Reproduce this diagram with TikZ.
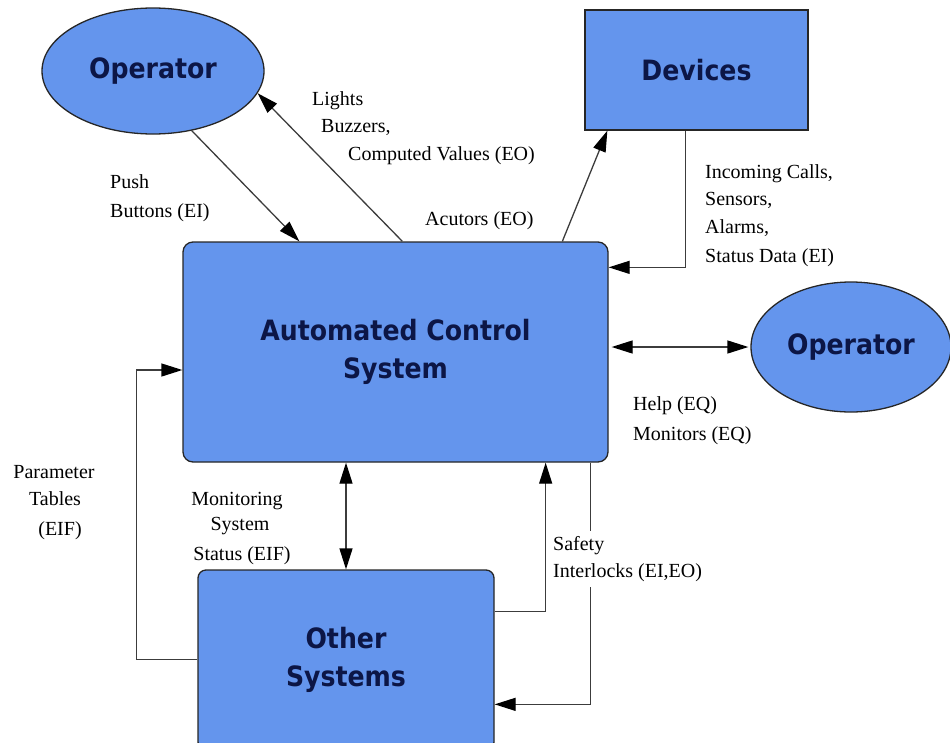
\documentclass[tikz,border=0pt]{standalone}
\usepackage{fontspec}
\setmainfont{Liberation Serif}
\newfontfamily\boxfont{DejaVu Sans Condensed}
\usetikzlibrary{arrows.meta,shapes.geometric,calc}
\definecolor{boxblue}{RGB}{100,149,237}
\definecolor{boxtext}{RGB}{12,22,70}
\definecolor{wire}{RGB}{60,60,60}
\begin{document}
\begin{tikzpicture}[x=1pt,y=-1pt,
  entity/.style={draw=black!85,line width=1.3pt,fill=boxblue,text=boxtext,
    font=\boxfont\bfseries\fontsize{28}{38}\selectfont,align=center,inner sep=0pt},
  oval/.style={entity,ellipse},
  box/.style={entity,rectangle},
  flow/.style={draw=wire,line width=1.3pt,-{Triangle[length=21pt,width=13pt,color=black]}},
  bothflow/.style={draw=wire,line width=1.3pt,
    {Triangle[length=21pt,width=13pt,color=black]}-{Triangle[length=21pt,width=13pt,color=black]}},
  note/.style={font=\fontsize{20}{27}\selectfont,inner sep=0pt,anchor=base west},
  cnote/.style={note,anchor=base}]
\useasboundingbox (0,0) rectangle (950,742);
\clip (0,0) rectangle (950,742);

% entities
\node[oval,minimum width=222pt,minimum height=126pt] (opL) at (153,71) {Operator};
\node[box,minimum width=223pt,minimum height=120pt] (dev) at (696.5,70) {Devices};
\node[box,rounded corners=10pt,minimum width=425pt,minimum height=220pt] (acs) at (395.5,352)
  {Automated Control\\System};
\node[oval,minimum width=200pt,minimum height=130pt] (opR) at (851,347) {Operator};
\node[box,rounded corners=8pt,minimum width=296pt,minimum height=180pt] (oth) at (346,660)
  {Other\\Systems};

% operator (left) <-> control system
\draw[flow] (opL.-57) -- ([xshift=117pt]acs.north west);
\draw[flow] ([xshift=220pt]acs.north west) -- (opL.-12);

% control system <-> devices
\draw[flow] ([xshift=380pt]acs.north west) -- ([xshift=23pt]dev.south west);
\draw[flow] ([xshift=-11pt]dev.south) |- ([yshift=-26pt]acs.north east);

% control system <-> operator (right)
\draw[bothflow] ([xshift=3pt]acs.east |- opR.west) -- ([xshift=-2pt]opR.west);

% control system <-> other systems
\draw[bothflow] (acs.south -| oth.north) -- (oth.north);
\draw[flow] ([yshift=-42pt]oth.north east) -| ([xshift=-63pt]acs.south east);
\draw[flow] ([xshift=-18pt]acs.south east) |- ([yshift=-135pt]oth.north east);
\draw[flow] ([yshift=-90pt]oth.north west) -- ++(-61,0) |- ([yshift=-18pt]acs.west);

% flow labels
\node[note] (lblPushA) at (110,188) {Push};
\node[note] (lblPushB) at (110,217) {Buttons (EI)};
\node[note] (lblLightA) at (312,105) {Lights};
\node[note] (lblLightB) at (321,132) {Buzzers,};
\node[note] (lblLightC) at (348,160) {Computed Values (EO)};
\node[note] (lblAct) at (425,225) {Acutors (EO)};
\node[note] (lblDevA) at (705,178) {Incoming Calls,};
\node[note] (lblDevB) at (705,205) {Sensors,};
\node[note] (lblDevC) at (705,233) {Alarms,};
\node[note] (lblDevD) at (705,262) {Status Data (EI)};
\node[note] (lblHelpA) at (633,410) {Help (EQ)};
\node[note] (lblHelpB) at (633,440) {Monitors (EQ)};
\node[cnote] (lblParA) at (54,478) {Parameter};
\node[cnote] (lblParB) at (55,505) {Tables};
\node[cnote] (lblParC) at (60,535) {(EIF)};
\node[cnote] (lblMonA) at (237,505) {Monitoring};
\node[cnote] (lblMonB) at (240,530) {System};
\node[cnote] (lblMonC) at (242,560) {Status (EIF)};
\node[note,anchor=north west,align=left,fill=white,inner ysep=5pt] (lblSafe) at (553,531)
  {Safety\\Interlocks (EI,EO)};
\end{tikzpicture}
\end{document}
